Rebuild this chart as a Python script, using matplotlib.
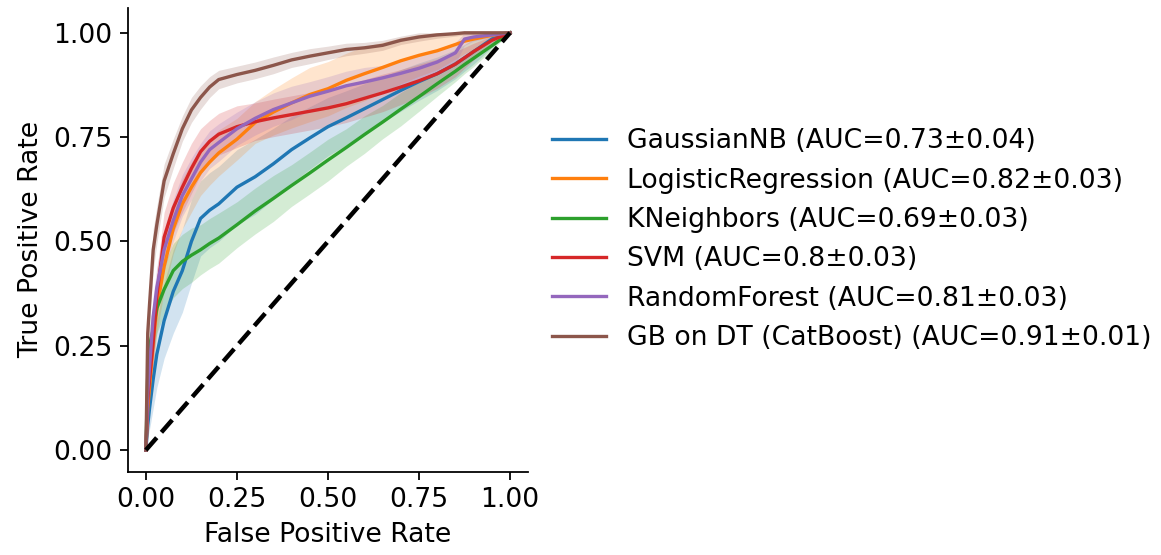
import numpy as np
import matplotlib.pyplot as plt

# common false positive rate grid
fpr_grid = [0, 0.005, 0.01, 0.02, 0.03, 0.05, 0.075, 0.1, 0.125, 0.15, 0.175, 0.2,
            0.25, 0.3, 0.35, 0.4, 0.45, 0.5, 0.55, 0.6, 0.65, 0.7, 0.75, 0.8,
            0.85, 0.875, 0.9, 0.95, 1.0]

model_names = ['GaussianNB', 'LogisticRegression', 'KNeighbors', 'SVM',
               'RandomForest', 'GB on DT (CatBoost)']
auc_means = ['0.73', '0.82', '0.69', '0.8', '0.81', '0.91']
auc_stds = ['0.04', '0.03', '0.03', '0.03', '0.03', '0.01']
colors = ['tab:blue', 'tab:orange', 'tab:green', 'tab:red', 'tab:purple', 'tab:brown']

# mean tpr per model
tpr_gnb = [0, 0.06, 0.1, 0.17, 0.23, 0.31, 0.38, 0.43, 0.5, 0.555, 0.575, 0.59,
           0.63, 0.655, 0.686, 0.72, 0.748, 0.775, 0.796, 0.818, 0.84, 0.862, 0.883, 0.902,
           0.925, 0.94, 0.955, 0.985, 1.0]
tpr_logreg = [0, 0.1, 0.15, 0.26, 0.34, 0.44, 0.53, 0.59, 0.63, 0.665, 0.69, 0.712,
              0.745, 0.785, 0.81, 0.832, 0.852, 0.866, 0.886, 0.902, 0.917, 0.933, 0.946, 0.957,
              0.972, 0.98, 0.985, 0.994, 1.0]
tpr_knn = [0, 0.18, 0.25, 0.29, 0.34, 0.385, 0.43, 0.452, 0.467, 0.48, 0.495, 0.508,
           0.54, 0.573, 0.603, 0.634, 0.664, 0.695, 0.725, 0.756, 0.786, 0.817, 0.847, 0.878,
           0.908, 0.924, 0.939, 0.969, 1.0]
tpr_svm = [0, 0.12, 0.17, 0.26, 0.37, 0.51, 0.58, 0.63, 0.675, 0.715, 0.74, 0.757,
           0.775, 0.787, 0.796, 0.804, 0.812, 0.82, 0.83, 0.843, 0.856, 0.87, 0.885, 0.902,
           0.925, 0.94, 0.955, 0.982, 1.0]
tpr_rf = [0, 0.14, 0.2, 0.32, 0.39, 0.48, 0.55, 0.61, 0.65, 0.69, 0.72, 0.737,
          0.77, 0.795, 0.816, 0.832, 0.848, 0.86, 0.873, 0.882, 0.892, 0.903, 0.915, 0.93,
          0.952, 0.985, 0.99, 0.995, 1.0]
tpr_cat = [0, 0.28, 0.35, 0.48, 0.54, 0.645, 0.71, 0.77, 0.815, 0.845, 0.87, 0.888,
           0.9, 0.91, 0.922, 0.935, 0.944, 0.952, 0.96, 0.964, 0.97, 0.982, 0.99, 0.995,
           0.998, 1.0, 1.0, 1.0, 1.0]

# half width of the shaded band (std of tpr)
std_gnb = [0, 0.03, 0.05, 0.07, 0.08, 0.09, 0.1, 0.1, 0.1, 0.09, 0.09, 0.09,
           0.09, 0.09, 0.085, 0.08, 0.075, 0.07, 0.065, 0.06, 0.055, 0.05, 0.045, 0.04,
           0.035, 0.032, 0.03, 0.02, 0]
std_logreg = [0, 0.04, 0.05, 0.06, 0.06, 0.06, 0.06, 0.06, 0.06, 0.055, 0.055, 0.055,
              0.05, 0.05, 0.055, 0.06, 0.065, 0.065, 0.065, 0.065, 0.06, 0.055, 0.05, 0.045,
              0.035, 0.03, 0.025, 0.015, 0]
std_knn = [0, 0.04, 0.05, 0.06, 0.06, 0.06, 0.065, 0.065, 0.065, 0.06, 0.06, 0.06,
           0.055, 0.055, 0.055, 0.05, 0.05, 0.05, 0.045, 0.045, 0.04, 0.04, 0.035, 0.03,
           0.025, 0.022, 0.02, 0.01, 0]
std_svm = [0, 0.04, 0.05, 0.06, 0.06, 0.06, 0.06, 0.06, 0.06, 0.055, 0.05, 0.05,
           0.05, 0.045, 0.045, 0.045, 0.045, 0.045, 0.045, 0.045, 0.045, 0.042, 0.04, 0.035,
           0.03, 0.025, 0.02, 0.01, 0]
std_rf = [0, 0.04, 0.05, 0.05, 0.05, 0.05, 0.05, 0.05, 0.05, 0.045, 0.045, 0.045,
          0.04, 0.04, 0.04, 0.04, 0.035, 0.035, 0.035, 0.035, 0.03, 0.03, 0.03, 0.03,
          0.025, 0.015, 0.01, 0.005, 0]
std_cat = [0, 0.05, 0.05, 0.05, 0.045, 0.04, 0.035, 0.03, 0.03, 0.028, 0.025, 0.022,
           0.02, 0.02, 0.02, 0.018, 0.018, 0.016, 0.015, 0.013, 0.012, 0.01, 0.01, 0.008,
           0.006, 0.005, 0.004, 0.002, 0]

tprs = [tpr_gnb, tpr_logreg, tpr_knn, tpr_svm, tpr_rf, tpr_cat]
stds = [std_gnb, std_logreg, std_knn, std_svm, std_rf, std_cat]

plt.rcParams['font.size'] = 12

fig = plt.figure(figsize=(1161 / 160, 555 / 160), dpi=160)
ax = fig.add_axes([0.110, 0.150, 0.345, 0.836])

mean_fpr = np.array(fpr_grid)
for name, m, s, tpr, std, c in zip(model_names, auc_means, auc_stds, tprs, stds, colors):
    tpr = np.array(tpr)
    std = np.array(std)
    ax.plot(mean_fpr, tpr, color=c, lw=1.5, label=f'{name} (AUC={m}\u00b1{s})')
    ax.fill_between(mean_fpr,
                    np.maximum(tpr - std, 0),
                    np.minimum(tpr + std, 1),
                    color=c, alpha=0.2, lw=0)

ax.plot([0, 1], [0, 1], 'k--', lw=2)

ax.set_xlim(-0.05, 1.05)
ax.set_ylim(-0.052, 1.06)
ax.set_xticks([0, 0.25, 0.5, 0.75, 1.0])
ax.set_yticks([0, 0.25, 0.5, 0.75, 1.0])
ax.set_xlabel('False Positive Rate')
ax.set_ylabel('True Positive Rate')
ax.spines['top'].set_visible(False)
ax.spines['right'].set_visible(False)
ax.legend(loc='center left', bbox_to_anchor=(1, 0.5), frameon=False)

plt.savefig('out.png', dpi=160)
